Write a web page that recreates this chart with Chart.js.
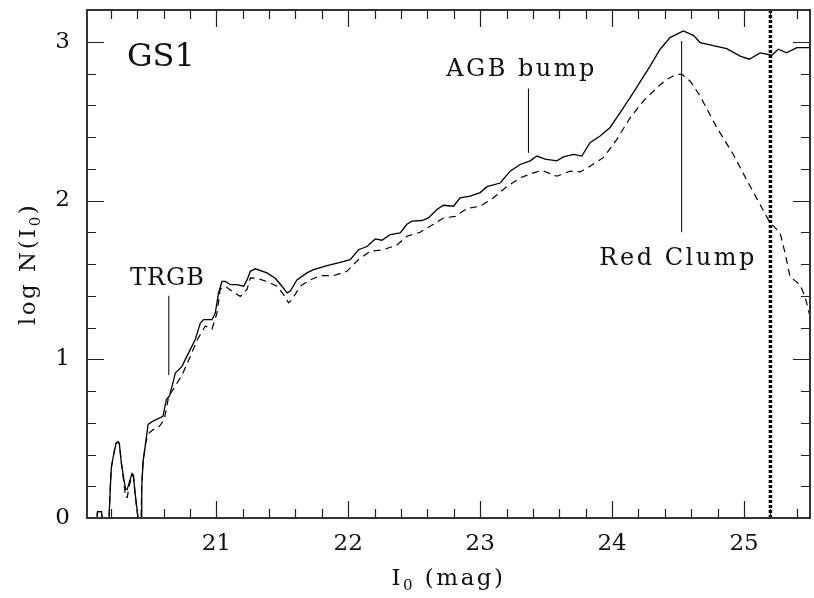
<!DOCTYPE html>
<html>
<head>
<meta charset="utf-8">
<script src="https://cdn.jsdelivr.net/npm/chart.js@4.4.1/dist/chart.umd.min.js"></script>
<style>
  html, body { margin: 0; padding: 0; background: #fff; }
</style>
</head>
<body>
<canvas id="grafica_gs1" width="814" height="598"></canvas>
<script>
// curva continua (linea solida)
const magSolida = [20.02, 20.095, 20.10, 20.13, 20.135, 20.187, 20.20, 20.205, 20.222, 20.24, 20.255, 20.265, 20.28, 20.30, 20.313, 20.325, 20.339, 20.361, 20.372, 20.385, 20.40, 20.407, 20.43, 20.435, 20.445, 20.464, 20.483, 20.52, 20.596, 20.621, 20.646, 20.677, 20.689, 20.74, 20.79, 20.84, 20.879, 20.904, 20.967, 20.992, 21.017, 21.043, 21.068, 21.106, 21.157, 21.207, 21.233, 21.258, 21.295, 21.384, 21.447, 21.498, 21.536, 21.561, 21.611, 21.687, 21.737, 21.839, 21.939, 22.015, 22.078, 22.142, 22.205, 22.255, 22.318, 22.394, 22.445, 22.483, 22.558, 22.608, 22.672, 22.722, 22.798, 22.848, 22.924, 23.0, 23.051, 23.152, 23.227, 23.303, 23.379, 23.43, 23.492, 23.581, 23.631, 23.707, 23.77, 23.833, 23.909, 23.985, 24.061, 24.161, 24.288, 24.364, 24.439, 24.54, 24.616, 24.667, 24.767, 24.869, 24.97, 25.04, 25.121, 25.21, 25.26, 25.323, 25.399, 25.5];
const logNSolida = [0, 0, 0.04, 0.04, 0, 0, 0.25, 0.32, 0.40, 0.47, 0.48, 0.47, 0.35, 0.24, 0.18, 0.18, 0.22, 0.28, 0.27, 0.15, 0.05, 0, 0, 0.2, 0.355, 0.47, 0.59, 0.61, 0.64, 0.745, 0.77, 0.87, 0.913, 0.955, 1.04, 1.123, 1.228, 1.25, 1.25, 1.29, 1.418, 1.49, 1.49, 1.47, 1.47, 1.46, 1.50, 1.554, 1.57, 1.544, 1.51, 1.46, 1.418, 1.43, 1.50, 1.544, 1.565, 1.59, 1.61, 1.628, 1.69, 1.71, 1.758, 1.75, 1.785, 1.796, 1.85, 1.87, 1.874, 1.89, 1.943, 1.97, 1.964, 2.017, 2.027, 2.05, 2.087, 2.11, 2.185, 2.227, 2.25, 2.28, 2.26, 2.25, 2.275, 2.29, 2.28, 2.364, 2.406, 2.46, 2.553, 2.68, 2.847, 2.953, 3.026, 3.068, 3.04, 2.995, 2.975, 2.957, 2.91, 2.89, 2.93, 2.915, 2.953, 2.93, 2.963, 2.963];

// curva discontinua (linea de guiones)
const magGuiones = [20.02, 20.095, 20.10, 20.13, 20.135, 20.187, 20.20, 20.205, 20.222, 20.24, 20.255, 20.265, 20.28, 20.30, 20.313, 20.325, 20.339, 20.361, 20.372, 20.385, 20.40, 20.407, 20.43, 20.435, 20.445, 20.464, 20.483, 20.52, 20.558, 20.606, 20.639, 20.74, 20.803, 20.854, 20.917, 20.967, 21.005, 21.03, 21.068, 21.119, 21.182, 21.233, 21.258, 21.308, 21.384, 21.46, 21.51, 21.548, 21.573, 21.636, 21.712, 21.788, 21.889, 21.99, 22.078, 22.167, 22.267, 22.369, 22.445, 22.545, 22.646, 22.722, 22.811, 22.9, 23.0, 23.101, 23.202, 23.303, 23.392, 23.467, 23.581, 23.682, 23.758, 23.833, 23.934, 24.036, 24.136, 24.237, 24.339, 24.414, 24.49, 24.528, 24.591, 24.667, 24.793, 24.919, 25.02, 25.121, 25.197, 25.273, 25.311, 25.348, 25.424, 25.462, 25.5];
const logNGuiones = [0, 0, 0.04, 0.04, 0, 0, 0.25, 0.32, 0.40, 0.47, 0.48, 0.47, 0.35, 0.22, 0.13, 0.13, 0.20, 0.27, 0.26, 0.15, 0.04, 0, 0, 0.2, 0.355, 0.47, 0.53, 0.555, 0.566, 0.62, 0.765, 0.90, 1.018, 1.12, 1.21, 1.19, 1.29, 1.443, 1.46, 1.428, 1.396, 1.44, 1.512, 1.51, 1.49, 1.46, 1.407, 1.355, 1.375, 1.46, 1.50, 1.527, 1.527, 1.554, 1.628, 1.68, 1.69, 1.72, 1.775, 1.80, 1.85, 1.89, 1.90, 1.95, 1.964, 2.017, 2.087, 2.143, 2.17, 2.19, 2.153, 2.185, 2.18, 2.216, 2.27, 2.385, 2.52, 2.627, 2.71, 2.763, 2.795, 2.795, 2.753, 2.658, 2.46, 2.29, 2.13, 1.975, 1.86, 1.796, 1.67, 1.52, 1.47, 1.396, 1.27];

// marcas de TRGB, AGB bump y Red Clump
const marcaMag = [20.64, 23.366, 24.527];
const marcaDesde = [0.90, 2.30, 1.80];
const marcaHasta = [1.40, 2.705, 3.005];

// limite de completitud
const limiteMag = 25.2;

const ticksX = [21, 22, 23, 24, 25];
const ticksY = [0, 1, 2, 3];

const fuente = "'DejaVu Serif', 'Liberation Serif', serif";

function unirPuntos(xs, ys) {
  return xs.map((x, i) => ({ x: x, y: ys[i] }));
}

// textos dentro del grafico (posicion en unidades de los ejes, linea base)
const textos = [
  { t: "GS1", x: 20.323, y: 2.847, size: 32, align: "left", esp: 0 },
  { t: "TRGB", x: 20.629, y: 1.467, size: 24, align: "center", esp: 1 },
  { t: "AGB bump", x: 23.314, y: 2.782, size: 24, align: "center", esp: 2.5 },
  { t: "Red Clump", x: 24.50, y: 1.596, size: 24, align: "center", esp: 2.5 },
];

// titulos de ejes con subindice: [texto, esSubindice]
const tituloX = [["I", false], ["0", true], [" (mag)", false]];
const tituloY = [["log N(I", false], ["0", true], [")", false]];

function textoConSub(ctx, partes, cx, base) {
  const medir = p => {
    ctx.font = (p[1] ? 15 : 23) + "px " + fuente;
    return ctx.measureText(p[0]).width;
  };
  const total = partes.reduce((s, p) => s + medir(p), 0);
  let xx = cx - total / 2;
  partes.forEach(p => {
    const w = medir(p);
    ctx.fillText(p[0], xx, base + (p[1] ? 5 : 0));
    xx += w;
  });
}

const marcoPlugin = {
  id: "marco",
  afterDraw(chart) {
    const { ctx, chartArea: a, scales: { x, y } } = chart;
    ctx.save();
    ctx.strokeStyle = "#222";
    ctx.lineWidth = 1.2;
    ctx.beginPath();
    // ticks horizontales (abajo y arriba)
    for (let k = 101; k <= 127; k++) {
      const px = Math.round(x.getPixelForValue(k * 0.2)) + 0.5;
      const largo = k % 5 === 0 ? 17 : 9;
      ctx.moveTo(px, a.bottom); ctx.lineTo(px, a.bottom - largo);
      ctx.moveTo(px, a.top); ctx.lineTo(px, a.top + largo);
    }
    // ticks verticales (izquierda y derecha)
    for (let k = 1; k <= 15; k++) {
      const py = Math.round(y.getPixelForValue(k * 0.2)) + 0.5;
      const largo = k % 5 === 0 ? 17 : 9;
      ctx.moveTo(a.left, py); ctx.lineTo(a.left + largo, py);
      ctx.moveTo(a.right, py); ctx.lineTo(a.right - largo, py);
    }
    ctx.stroke();
    ctx.lineWidth = 2;
    ctx.strokeStyle = "#333";
    ctx.strokeRect(a.left, a.top, a.right - a.left, a.bottom - a.top);

    ctx.fillStyle = "#111";
    ctx.textBaseline = "alphabetic";
    textos.forEach(e => {
      ctx.font = e.size + "px " + fuente;
      ctx.letterSpacing = e.esp + "px";
      ctx.textAlign = e.align;
      ctx.fillText(e.t, x.getPixelForValue(e.x), y.getPixelForValue(e.y));
    });

    // titulos de los ejes
    ctx.textAlign = "left";
    ctx.letterSpacing = "2.5px";
    textoConSub(ctx, tituloX, (a.left + a.right) / 2, 585);
    ctx.translate(35, (a.top + a.bottom) / 2);
    ctx.rotate(-Math.PI / 2);
    textoConSub(ctx, tituloY, 0, 0);
    ctx.restore();
  }
};

const datasets = [
  {
    label: "total",
    data: unirPuntos(magSolida, logNSolida),
    borderColor: "#000",
    borderWidth: 1.3,
    pointRadius: 0,
  },
  {
    label: "parcial",
    data: unirPuntos(magGuiones, logNGuiones),
    borderColor: "#000",
    borderWidth: 1.2,
    borderDash: [7, 5],
    pointRadius: 0,
  },
  {
    label: "limite",
    data: [{ x: limiteMag, y: 0 }, { x: limiteMag, y: 3.25 }],
    borderColor: "#000",
    borderWidth: 3.5,
    borderDash: [3, 2],
    pointRadius: 0,
  },
];
marcaMag.forEach((m, i) => {
  datasets.push({
    label: "marca" + i,
    data: [{ x: m, y: marcaDesde[i] }, { x: m, y: marcaHasta[i] }],
    borderColor: "#000",
    borderWidth: 1,
    pointRadius: 0,
  });
});

const ctx = document.getElementById("grafica_gs1").getContext("2d");

new Chart(ctx, {
  type: "line",
  data: { datasets: datasets },
  plugins: [marcoPlugin],
  options: {
    responsive: false,
    animation: false,
    layout: { padding: { top: 10, right: 4, left: 0, bottom: 0 } },
    plugins: {
      legend: { display: false },
      tooltip: { enabled: false },
    },
    elements: { line: { tension: 0 } },
    scales: {
      x: {
        type: "linear",
        min: 20.02,
        max: 25.5,
        afterBuildTicks: s => { s.ticks = ticksX.map(v => ({ value: v })); },
        afterFit: s => { s.height = 80; s.paddingLeft = 0; s.paddingRight = 0; },
        grid: { display: false, drawTicks: false },
        border: { display: false },
        ticks: {
          padding: 12,
          color: "#111",
          font: { family: fuente, size: 23 },
          callback: v => String(v),
        },
      },
      y: {
        type: "linear",
        min: 0,
        max: 3.2,
        afterBuildTicks: s => { s.ticks = ticksY.map(v => ({ value: v })); },
        afterFit: s => { s.width = 87; s.paddingTop = 0; s.paddingBottom = 0; },
        grid: { display: false, drawTicks: false },
        border: { display: false },
        ticks: {
          padding: 17,
          color: "#111",
          font: { family: fuente, size: 23 },
          callback: v => String(v),
        },
      },
    },
  },
});
</script>
</body>
</html>
